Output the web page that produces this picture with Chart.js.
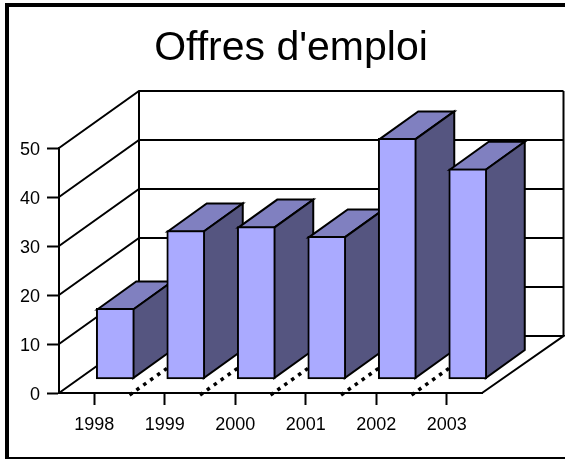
<!DOCTYPE html>
<html><head><meta charset="utf-8">
<style>html,body{margin:0;padding:0;background:#fff;overflow:hidden}canvas{display:block}</style>
<script src="https://cdn.jsdelivr.net/npm/chart.js@4"></script></head>
<body><canvas id="c" width="565" height="459"></canvas>
<script>
const titleText = "Offres d'emploi";
const categories = ['1998','1999','2000','2001','2002','2003'];
const values = [14.5, 30.4, 31.2, 29.2, 49.2, 43];
const depth = {dx:80, dy:57, dxRight:81.5};
const barFront = {dx:21, dy:13.5};
const barDepth = {dx:39, dy:28};
const FRONT='#AAAAFF', TOP='#8080C0', SIDE='#555580', INK='#000';
const origDraw = Chart.BarElement.prototype.draw;
Chart.BarElement.prototype.draw = function(ctx){
  const {x,y,base,width} = this.getProps(['x','y','base','width'],true);
  const l=x-width/2+1, r=x+width/2-1, t=y+1, b=base-1;
  ctx.save();
  ctx.translate(barFront.dx,-barFront.dy);
  ctx.lineWidth=2; ctx.strokeStyle=INK; ctx.lineJoin='miter';
  ctx.fillStyle=TOP;
  ctx.beginPath();ctx.moveTo(l,t);ctx.lineTo(l+barDepth.dx,t-barDepth.dy);ctx.lineTo(r+barDepth.dx,t-barDepth.dy);ctx.lineTo(r,t);ctx.closePath();ctx.fill();ctx.stroke();
  ctx.fillStyle=SIDE;
  ctx.beginPath();ctx.moveTo(r,t);ctx.lineTo(r+barDepth.dx,t-barDepth.dy);ctx.lineTo(r+barDepth.dx,b-barDepth.dy);ctx.lineTo(r,b);ctx.closePath();ctx.fill();ctx.stroke();
  origDraw.call(this,ctx);
  ctx.restore();
};
const frame3d = {
  id:'frame3d',
  afterLayout(chart){ chart.titleBlock.left=17; chart.titleBlock.right=565; },
  beforeDraw(chart){
    const c=chart.ctx;
    c.save();c.fillStyle=INK;
    c.fillRect(5,3,560,4);c.fillRect(5,3,4,456);c.fillRect(5,457,560,2);
    c.restore();
  },
  beforeDatasetsDraw(chart){
    const c=chart.ctx,xs=chart.scales.x,ys=chart.scales.y;
    const L=chart.chartArea.left,R=chart.chartArea.right,B=ys.getPixelForValue(0);
    const d=depth, RB=R+d.dxRight;
    c.save();c.strokeStyle=INK;c.lineWidth=2;
    const top=ys.getPixelForValue(ys.max)-d.dy;
    c.beginPath();c.moveTo(L+d.dx,top);c.lineTo(L+d.dx,B-d.dy);c.lineTo(RB,B-d.dy);c.lineTo(R,B);c.stroke();
    c.beginPath();c.moveTo(RB,top);c.lineTo(RB,B-d.dy);c.stroke();
    ys.ticks.forEach(t=>{const y=ys.getPixelForValue(t.value);
      c.beginPath();c.moveTo(L,y);c.lineTo(L+d.dx,y-d.dy);c.lineTo(RB,y-d.dy);c.stroke();});
    c.lineWidth=3.5;c.setLineDash([3.5,5]);
    for(let i=0;i<categories.length-1;i++){
      const x=(xs.getPixelForValue(i)+xs.getPixelForValue(i+1))/2;
      c.beginPath();c.moveTo(x,B+2);c.lineTo(x+40,B+2-28.5);c.stroke();
    }
    c.restore();
  }
};
new Chart(document.getElementById('c'),{
  type:'bar',
  data:{labels:categories,datasets:[{data:values,backgroundColor:FRONT,borderColor:INK,borderWidth:2,borderSkipped:false,barThickness:38,clip:false}]},
  plugins:[frame3d],
  options:{
    responsive:false,animation:false,
    layout:{padding:{left:0,right:83,top:0,bottom:0}},
    plugins:{legend:{display:false},tooltip:{enabled:false},
      title:{display:true,text:titleText,color:INK,font:{family:'"Liberation Sans"',size:41,weight:'normal'},padding:{top:23.7,bottom:148-23.7-49.2}}},
    scales:{
      x:{afterFit(s){s.height=66;},
        grid:{offset:false,drawOnChartArea:false,tickLength:12,tickWidth:2,tickColor:INK},
        border:{color:INK,width:2},
        ticks:{color:'#000',font:{family:'"Liberation Sans"',size:18},padding:9,maxRotation:0}},
      y:{min:0,max:50,afterFit(s){s.width=59;},
        grid:{drawOnChartArea:false,tickLength:12,tickWidth:2,tickColor:INK},
        border:{color:INK,width:2},
        ticks:{stepSize:10,color:'#000',font:{family:'"Liberation Sans"',size:18},padding:7,labelOffset:2}}
    }
  }
});
</script></body></html>
